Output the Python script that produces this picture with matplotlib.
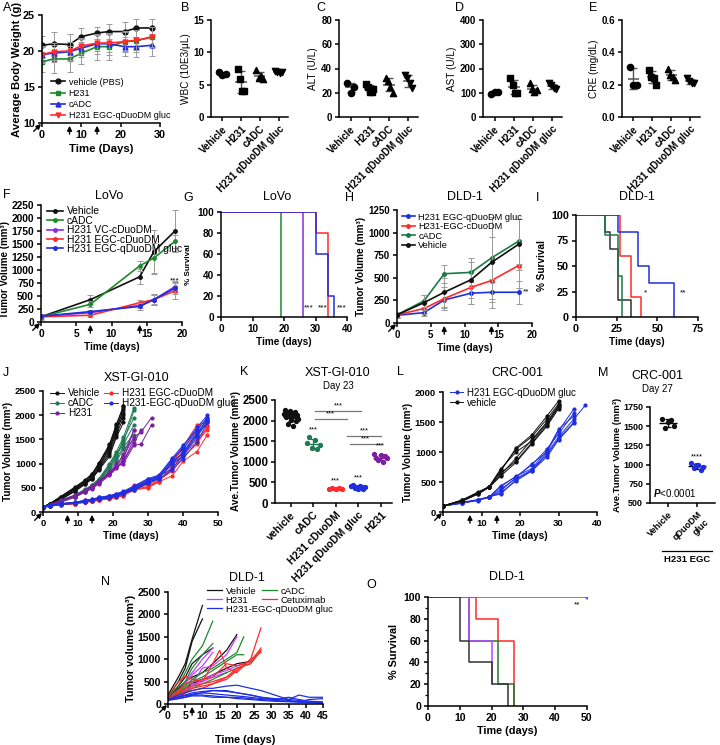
import matplotlib
matplotlib.use('Agg')
import matplotlib.pyplot as plt
import numpy as np

plt.rcParams['font.family'] = ['Liberation Sans', 'DejaVu Sans']
plt.rcParams['font.size'] = 7
plt.rcParams['font.weight'] = 'bold'
plt.rcParams['axes.labelweight'] = 'bold'
plt.rcParams['axes.labelsize'] = 7.2
plt.rcParams['axes.linewidth'] = 1.1
plt.rcParams['mathtext.fontset'] = 'custom'
plt.rcParams['mathtext.it'] = 'Liberation Sans:italic'
plt.rcParams['mathtext.rm'] = 'Liberation Sans'

# ---------------- data ----------------
# A: body weight
a_days = [0, 3, 7, 10, 14, 17, 21, 24, 28]
a_vehicle = [20.8, 21.0, 20.9, 22.0, 22.5, 22.7, 22.7, 23.2, 23.2]
a_h231 = [18.5, 18.9, 18.9, 19.7, 20.6, 20.6, 21.3, 21.4, 22.0]
a_cadc = [19.5, 19.7, 19.9, 20.4, 21.0, 21.0, 20.6, 20.6, 20.8]
a_egc = [19.5, 19.9, 20.0, 20.7, 21.1, 21.1, 21.3, 21.5, 21.9]
a_vehicle_sd = [1.3, 1.7, 1.5, 1.2, 0.8, 1.0, 1.3, 1.3, 1.2]
a_h231_sd = [1.4, 2.0, 1.8, 1.5, 1.8, 1.8, 1.5, 1.5, 1.3]
a_cadc_sd = [1.2, 1.2, 1.3, 1.3, 1.4, 1.5, 1.3, 1.4, 1.5]
a_egc_sd = [1.0, 1.2, 1.2, 1.1, 1.1, 1.2, 1.3, 1.4, 1.4]

# B-E: blood chemistry
tox_groups = ['Vehicle', 'H231', 'cADC', 'H231 qDuoDM gluc']
wbc = [[6.9, 6.5, 6.6], [7.5, 5.9, 4.0, 4.0], [7.2, 6.1, 6.3, 5.9], [7.1, 6.9, 6.8, 7.0]]
alt = [[28, 20, 25], [27, 25, 21, 21, 23], [32, 30, 25, 20], [35, 32, 28, 24]]
ast = [[95, 105, 102], [160, 130, 100, 100], [140, 115, 105, 110], [140, 130, 120, 115]]
cre = [[0.31, 0.20, 0.20], [0.29, 0.25, 0.24, 0.20], [0.30, 0.26, 0.25, 0.23], [0.24, 0.22, 0.21, 0.21]]

# F: LoVo tumor volume
f_days = [0, 7, 14, 16, 19]
f_vehicle = [100, 430, 870, 1350, 1750]
f_cadc = [100, 340, 1080, 1230, 1550]
f_vc = [110, 180, 320, 430, 680]
f_egc_c = [100, 130, 370, 430, 600]
f_egc_q = [110, 200, 300, 430, 650]
f_vehicle_sd = [60, 80, 140, 420, 400]
f_cadc_sd = [40, 60, 100, 280, 120]
f_vc_sd = [20, 40, 60, 100, 110]
f_egc_c_sd = [20, 30, 50, 90, 150]
f_egc_q_sd = [20, 40, 60, 110, 120]

# G: LoVo survival
g_cadc_t, g_cadc_s = [0, 19], [100, 0]
g_vc_t, g_vc_s = [0, 26], [100, 0]
g_egc_c_t, g_egc_c_s = [0, 30, 34], [100, 80, 0]
g_egc_q_t, g_egc_q_s = [0, 30, 34, 36], [100, 60, 20, 0]

# H: DLD-1 tumor volume
h_days = [0, 4, 7, 11, 14, 18]
h_gluc = [85, 115, 255, 330, 340, 340]
h_egc_c = [90, 160, 270, 395, 470, 635]
h_cadc = [90, 245, 545, 560, 720, 905]
h_vehicle = [90, 225, 340, 480, 670, 870]
h_gluc_sd = [20, 40, 90, 120, 110, 130]
h_egc_c_sd = [20, 60, 130, 180, 200, 250]
h_cadc_sd = [30, 70, 100, 160, 230, 250]
h_vehicle_sd = [30, 80, 160, 200, 500, 280]

# I: DLD-1 survival
i_vehicle_t, i_vehicle_s = [0, 18, 21, 26, 34], [100, 83, 67, 17, 0]
i_cadc_t, i_cadc_s = [0, 18, 26, 28], [100, 80, 40, 0]
i_egc_c_t, i_egc_c_s = [0, 27, 34, 40], [100, 60, 20, 0]
i_gluc_t, i_gluc_s = [0, 26, 38, 45, 60], [100, 83, 50, 33, 0]

# J: XST-GI-010 individual mice
j_days = [0, 2, 5, 9, 12, 14, 16, 19, 21, 23, 26, 28, 31]
j_days_long = [0, 2, 5, 9, 12, 14, 16, 19, 21, 23, 26, 30, 33, 37, 40, 44, 47]
j_vehicle = [
    [100, 170, 300, 500, 650, 780, 1000, 1380, 1800, 2200],
    [110, 160, 290, 470, 620, 720, 950, 1320, 1700, 2150],
    [90, 150, 270, 440, 600, 700, 900, 1250, 1650, 2050],
    [100, 170, 310, 480, 640, 760, 990, 1350, 1750, 2100],
    [95, 140, 250, 420, 570, 680, 880, 1200, 1600, 1950],
    [105, 165, 285, 460, 610, 730, 930, 1300, 1720, 2000],
    [100, 155, 260, 430, 580, 690, 870, 1150, 1550, 1850],
    [110, 175, 320, 510, 660, 790, 1020, 1400, 1820, 2180],
]
j_cadc = [
    [100, 140, 230, 340, 470, 560, 690, 1000, 1250, 1550, 2150],
    [95, 130, 210, 310, 430, 510, 640, 920, 1150, 1450, 2100],
    [105, 145, 240, 350, 460, 550, 670, 980, 1200, 1400, 1800],
    [100, 135, 220, 330, 440, 520, 650, 900, 1100, 1350, 1600],
    [90, 125, 200, 300, 410, 490, 610, 860, 1050, 1300, 1500],
    [100, 140, 225, 320, 450, 530, 660, 940, 1180, 1500, 1950],
]
j_h231 = [
    [100, 150, 230, 330, 440, 520, 620, 800, 950, 1100, 1700],
    [95, 140, 220, 320, 420, 500, 600, 780, 920, 1050, 1420, 1700],
    [105, 150, 240, 340, 450, 540, 650, 820, 990, 1150, 1550, 1650, 1950],
    [100, 145, 225, 325, 430, 510, 610, 790, 930, 1000, 1380, 1400, 1800],
    [90, 135, 210, 310, 410, 480, 580, 760, 900, 1050, 1500],
    [100, 145, 230, 330, 440, 520, 630, 810, 960, 1200, 1700],
]
j_egc_c = [
    [100, 120, 150, 170, 200, 220, 240, 280, 300, 340, 450, 500, 620, 750, 1050, 1250, 1600],
    [100, 125, 155, 180, 210, 230, 260, 290, 320, 360, 500, 550, 650, 850, 1150, 1400, 1780],
    [95, 120, 150, 175, 205, 225, 250, 280, 310, 350, 480, 520, 640, 900, 1200, 1450, 1700],
    [105, 130, 160, 185, 215, 240, 270, 300, 330, 370, 550, 600, 700, 1000, 1350, 1800, 1850],
    [100, 125, 150, 170, 200, 220, 245, 275, 300, 340, 470, 510, 630, 950, 1250, 1500, 1750],
    [100, 120, 150, 175, 205, 230, 255, 285, 315, 355, 520, 580, 680, 1050, 1300, 1650, 1800],
]
j_gluc = [
    [100, 130, 160, 180, 220, 240, 270, 300, 330, 380, 480, 600, 700, 1000, 1250, 1600, 1850],
    [100, 135, 165, 190, 230, 250, 280, 320, 350, 400, 500, 650, 720, 1100, 1300, 1700, 1950],
    [95, 130, 160, 180, 215, 240, 270, 300, 340, 390, 460, 620, 690, 1050, 1200, 1650, 1900],
    [105, 140, 170, 200, 240, 260, 300, 330, 370, 420, 520, 680, 740, 1080, 1350, 1750, 2000],
    [100, 130, 165, 185, 220, 245, 275, 310, 345, 395, 470, 640, 710, 1000, 1150, 1550, 1880],
    [100, 135, 170, 195, 235, 255, 290, 325, 360, 410, 490, 660, 730, 900, 1180, 1600, 1920],
    [95, 125, 155, 180, 215, 235, 265, 295, 330, 380, 450, 590, 680, 870, 1100, 1450, 1850],
    [105, 140, 175, 200, 240, 265, 300, 340, 380, 430, 540, 690, 760, 1120, 1380, 1700, 1950],
]

# K: day 23 volumes
k_groups = ['vehicle', 'cADC', 'H231 cDuoDM', 'H231 qDuoDM gluc', 'H231']
k_vehicle = [2150, 2250, 2080, 2190, 1920, 2120, 2230, 2020, 2170, 1870, 2100, 2200, 1980, 2130, 2050]
k_cadc = [1450, 1600, 1330, 1520, 1300, 1400]
k_egc_c = [350, 360, 340, 355, 345]
k_gluc = [410, 440, 370, 400, 350, 420, 380, 340, 390]
k_h231 = [1200, 1100, 1040, 1160, 1000, 1130, 1090]

# L: CRC-001 individual mice
l_days = [0, 5, 9, 12, 15, 19, 23, 27, 30, 34, 37]
l_vehicle = [
    [100, 190, 310, 420, 650, 850, 1150, 1450, 1750],
    [100, 200, 320, 420, 700, 1050, 1250, 1550, 1800],
    [100, 185, 300, 415, 620, 900, 1200, 1500, 1780],
    [100, 195, 315, 420, 680, 1070, 1280, 1600, 1850],
    [100, 180, 295, 410, 600, 830, 1130, 1430, 1720],
    [100, 200, 330, 425, 720, 1000, 1180, 1480, 1760],
]
l_gluc = [
    [100, 150, 200, 250, 320, 520, 680, 920, 1200, 1480],
    [100, 160, 200, 250, 380, 560, 700, 980, 1250, 1550, 1780],
    [100, 155, 195, 245, 350, 580, 800, 1000, 1350, 1720],
    [100, 150, 190, 250, 420, 600, 720, 1020, 1380, 1600],
    [100, 145, 200, 255, 300, 540, 690, 950, 1220, 1500],
    [100, 165, 205, 250, 440, 590, 780, 1050, 1300, 1650],
]

# M: day 27 volumes
m_vehicle = [1600, 1480, 1550, 1580, 1500]
m_gluc = [1020, 950, 990, 1000, 930, 970]

# N: DLD-1 individual mice (days, volumes)
n_vehicle = [
    ([0, 3, 5, 7, 10], [200, 600, 900, 1450, 2200]),
    ([0, 3, 5, 7, 10], [150, 500, 800, 1400, 1900]),
    ([0, 3, 5, 7, 10, 13, 17, 20], [150, 350, 500, 600, 700, 900, 1200, 1550]),
    ([0, 3, 5, 7, 10, 13, 17, 20, 24], [100, 250, 350, 450, 550, 650, 800, 900, 950]),
    ([0, 3, 5, 7, 10, 13], [120, 400, 600, 900, 1100, 1250]),
]
n_cadc = [
    ([0, 3, 5, 7, 10, 13], [150, 400, 700, 1000, 1300, 1850]),
    ([0, 3, 5, 7, 10, 13], [100, 300, 500, 800, 1100, 1350]),
    ([0, 3, 5, 7, 10, 13, 17, 20, 22], [100, 250, 400, 550, 700, 800, 1000, 1150, 1500]),
    ([0, 3, 5, 7, 10, 13, 17, 20, 22], [80, 200, 350, 500, 600, 750, 950, 1100, 1100]),
    ([0, 3, 5, 7, 10, 13, 17, 20, 24, 27], [80, 150, 250, 350, 450, 550, 700, 800, 900, 1200]),
]
n_h231 = [
    ([0, 3, 5, 7, 10, 13], [100, 300, 500, 700, 1000, 1250]),
    ([0, 3, 5, 7, 10, 13], [100, 250, 450, 650, 850, 1150]),
    ([0, 3, 5, 7, 10, 13, 17, 20], [100, 200, 300, 450, 800, 850, 1100, 1500]),
    ([0, 3, 5, 7, 10, 13, 17, 20, 24], [80, 180, 280, 400, 550, 650, 750, 850, 950]),
    ([0, 3, 5, 7, 10, 13, 17], [90, 200, 300, 400, 500, 600, 700]),
]
n_cetux = [
    ([0, 3, 5, 7, 10, 13, 15, 17, 20, 22, 24, 27], [150, 500, 620, 550, 500, 900, 1200, 800, 700, 850, 1000, 1700]),
    ([0, 3, 5, 7, 10, 13, 17, 20, 24, 27], [100, 300, 450, 500, 550, 600, 900, 850, 950, 1250]),
    ([0, 3, 5, 7, 10, 13, 17, 20, 24, 27], [100, 250, 350, 400, 450, 500, 600, 800, 900, 1200]),
    ([0, 3, 5, 7, 10, 13, 17, 20, 24, 27], [80, 200, 300, 350, 400, 450, 550, 750, 1000, 1150]),
    ([0, 3, 5, 7, 10, 13, 17, 20], [80, 150, 250, 300, 350, 450, 600, 750]),
]
n_days_gluc = [0, 3, 5, 7, 10, 13, 17, 20, 24, 27, 31, 35, 38, 41, 45]
n_gluc = [
    [100, 200, 250, 300, 350, 350, 400, 420, 350, 300, 200, 100, 80, 60, 50],
    [100, 150, 200, 250, 280, 300, 300, 250, 200, 150, 120, 100, 200, 150, 150],
    [100, 150, 180, 220, 250, 300, 280, 250, 200, 150, 100, 80, 50, 100, 120],
    [100, 120, 150, 200, 200, 180, 150, 150, 120, 100, 80, 60, 50, 40, 30],
    [100, 150, 200, 200, 250, 230, 200, 180, 150, 120, 100, 150, 100, 60, 30],
    [80, 120, 150, 180, 180, 150, 150, 120, 100, 80, 60, 50, 40, 30, 20],
]

# O: DLD-1 survival
o_vehicle_t, o_vehicle_s = [0, 10, 13, 20, 25], [100, 60, 40, 20, 0]
o_h231_t, o_h231_s = [0, 13, 20], [100, 60, 20]
o_cadc_t, o_cadc_s = [0, 13, 22, 27], [100, 60, 20, 0]
o_cetux_t, o_cetux_s = [0, 15, 22, 27], [100, 80, 60, 0]
o_gluc_t, o_gluc_s = [0, 50], [100, 100]

# ---------------- layout helpers ----------------
W, H = 720, 745
fig = plt.figure(figsize=(W / 100, H / 100), dpi=100)

BLACK = '#111111'
GREEN = '#1e8a2e'
BLUE = '#1f2fe0'
RED = '#ff2a2a'
PURPLE = '#8a2be2'
GRAY = '#9a9a9a'


def add_ax(l, t, r, b, ts=7.5):
    ax = fig.add_axes([l / W, 1 - b / H, (r - l) / W, (b - t) / H])
    ax.spines[['top', 'right']].set_visible(False)
    ax.tick_params(width=1.1, length=3, labelsize=ts, pad=2)
    ax.patch.set_alpha(0)
    return ax


def letter(x, y, s):
    fig.text(x / W, 1 - y / H, s, fontsize=9, weight='normal', va='center', ha='left')


def title(x, y, s, size=9):
    fig.text(x / W, 1 - y / H, s, fontsize=size, weight='normal', va='center', ha='center')


def arrows(ax, days, origin=True):
    for d in days:
        ax.annotate('', xy=(d, 0), xycoords=('data', 'axes fraction'),
                    xytext=(0, -8), textcoords='offset points',
                    arrowprops=dict(arrowstyle='-|>,head_width=0.2,head_length=0.4', color='k', lw=1,
                                    shrinkA=0, shrinkB=2),
                    annotation_clip=False)
    if origin:
        ax.annotate('', xy=(0, 0), xycoords='axes fraction', xytext=(-6, -6),
                    textcoords='offset points',
                    arrowprops=dict(arrowstyle='-|>,head_width=0.2,head_length=0.4', color='k', lw=1,
                                    shrinkA=0, shrinkB=1),
                    annotation_clip=False)


def leg_at(ax, handles, labels, x, y, size=7, hl=1.6, sp=0.05):
    lg = ax.legend(handles, labels, loc='upper left', bbox_to_anchor=(x / W, 1 - y / H),
                   bbox_transform=fig.transFigure, frameon=False,
                   handlelength=hl, labelspacing=sp, borderpad=0, handletextpad=0.4,
                   prop={'size': size, 'weight': 'normal'})
    ax.legend_ = None
    ax.add_artist(lg)
    return lg


# ---------------- A ----------------
ax = add_ax(42, 15, 160, 123, ts=7.8)
hA = []
for y, sd, c, m, lab in [(a_vehicle, a_vehicle_sd, BLACK, 'o', 'vehicle (PBS)'),
                         (a_h231, a_h231_sd, GREEN, 's', 'H231'),
                         (a_cadc, a_cadc_sd, BLUE, '^', 'cADC'),
                         (a_egc, a_egc_sd, RED, 'v', 'H231 EGC-qDuoDM gluc')]:
    ax.errorbar(a_days, y, yerr=sd, fmt='none', ecolor=GRAY, elinewidth=0.7, capsize=2, capthick=0.7)
    hA += ax.plot(a_days, y, color=c, marker=m, ms=3.5, lw=1.2, label=lab)
ax.set_xlim(0, 30)
ax.set_ylim(10, 25)
ax.set_xticks([0, 10, 20, 30])
ax.set_yticks([10, 15, 20, 25])
ax.set_xlabel('Time (Days)', labelpad=3, fontsize=8.2)
ax.set_ylabel('Average Body Weight (g)', labelpad=1, fontsize=8.2)
leg_at(ax, hA, [h.get_label() for h in hA], 46, 73, size=6.5, sp=0.25)
arrows(ax, [7, 14])
letter(3, 8, 'A')

# ---------------- B-E ----------------
tox_markers = ['o', 's', '^', 'v']


def tox_panel(box, vals, ylim, yticks, ylabel, fmt=None):
    ax = add_ax(*box, ts=7)
    for i, v in enumerate(vals):
        n = len(v)
        xs = i + np.linspace(-0.18, 0.18, n)
        ax.scatter(xs, v, marker=tox_markers[i], s=20, color='k', zorder=3)
        mu, sd = np.mean(v), np.std(v, ddof=1)
        ax.hlines(mu, i - 0.3, i + 0.3, color='#555555', lw=1.1)
        ax.errorbar(i, mu, yerr=sd, fmt='none', ecolor='#555555', elinewidth=1, capsize=3, capthick=1)
    ax.set_xlim(-0.6, 3.5)
    ax.set_ylim(*ylim)
    ax.set_yticks(yticks)
    if fmt:
        ax.set_yticklabels([fmt % t for t in yticks])
    ax.set_xticks(range(4))
    ax.set_xticklabels(tox_groups, rotation=45, ha='right', rotation_mode='anchor')
    ax.set_ylabel(ylabel, weight='normal', labelpad=2)
    return ax


tox_panel((211, 20, 288, 117), wbc, (0, 15), [0, 5, 10, 15], 'WBC (10E3/μL)')
tox_panel((339, 20, 418, 117), alt, (0, 80), [0, 20, 40, 60, 80], 'ALT (U/L)')
tox_panel((483, 20, 562, 117), ast, (0, 400), [0, 100, 200, 300, 400], 'AST (U/L)')
tox_panel((622, 20, 700, 117), cre, (0, 0.6), [0, 0.2, 0.4, 0.6], 'CRE (mg/dL)', fmt='%.1f')
letter(181, 8, 'B')
letter(316, 8, 'C')
letter(455, 8, 'D')
letter(589, 8, 'E')

# ---------------- F ----------------
ax = add_ax(41, 205, 182, 322, ts=7.4)
hF = []
for y, sd, c, lab in [(f_vehicle, f_vehicle_sd, BLACK, 'Vehicle'),
                      (f_cadc, f_cadc_sd, GREEN, 'cADC'),
                      (f_vc, f_vc_sd, PURPLE, 'H231 VC-cDuoDM'),
                      (f_egc_c, f_egc_c_sd, RED, 'H231 EGC-cDuoDM'),
                      (f_egc_q, f_egc_q_sd, BLUE, 'H231 EGC-qDuoDM gluc')]:
    ax.errorbar(f_days, y, yerr=sd, fmt='none', ecolor=GRAY, elinewidth=0.7, capsize=2, capthick=0.7)
    hF += ax.plot(f_days, y, color=c, marker='o', ms=2.5, lw=1.2, label=lab)
ax.set_xlim(0, 20)
ax.set_ylim(0, 2250)
ax.set_xticks([0, 5, 10, 15, 20])
ax.set_yticks(range(0, 2251, 250))
ax.set_xlabel('Time (days)', labelpad=2)
ax.set_ylabel('Tumor Volume (mm³)', fontsize=7)
ax.yaxis.set_label_coords(-0.22, 0.45)
ax.text(19, 800, '***', ha='center', va='center', fontsize=6, weight='normal')
leg_at(ax, hF, [h.get_label() for h in hF], 42, 201, size=7.4, hl=1.5, sp=-0.05)
arrows(ax, [7, 14])
letter(3, 195, 'F')
title(109, 196, 'LoVo')

# ---------------- G ----------------
ax = add_ax(221, 212, 347, 317, ts=7.2)
for t, s, c in [(g_cadc_t, g_cadc_s, GREEN), (g_vc_t, g_vc_s, PURPLE),
                (g_egc_c_t, g_egc_c_s, RED), (g_egc_q_t, g_egc_q_s, BLUE)]:
    ax.step(t, s, where='post', color=c, lw=1.1)
ax.set_xlim(0, 40)
ax.set_ylim(0, 100)
ax.set_xticks([0, 10, 20, 30, 40])
ax.set_yticks([0, 20, 40, 60, 80, 100])
ax.set_xlabel('Time (days)', labelpad=2)
ax.set_ylabel('% Survival', labelpad=4, fontsize=5.8)
for xx in [28, 32.3, 38.3]:
    ax.text(xx, 9, '***', ha='center', va='center', fontsize=6, weight='normal')
letter(183, 198, 'G')
title(277, 197, 'LoVo')

# ---------------- H ----------------
ax = add_ax(397, 210, 532, 323, ts=7)
hH = []
for y, sd, c, lab in [(h_gluc, h_gluc_sd, BLUE, 'H231 EGC-qDuoDM gluc'),
                      (h_egc_c, h_egc_c_sd, RED, 'H231-EGC-cDuoDM'),
                      (h_cadc, h_cadc_sd, '#1b7a45', 'cADC'),
                      (h_vehicle, h_vehicle_sd, BLACK, 'Vehicle')]:
    ax.errorbar(h_days, y, yerr=sd, fmt='none', ecolor=GRAY, elinewidth=0.7, capsize=2, capthick=0.7)
    hH += ax.plot(h_days, y, color=c, marker='o', ms=2.5, lw=1.2, label=lab)
ax.set_xlim(0, 20)
ax.set_ylim(0, 1250)
ax.set_xticks([0, 5, 10, 15, 20])
ax.set_yticks(range(0, 1251, 250))
ax.set_xlabel('Time (days)', labelpad=2)
ax.set_ylabel('Tumor Volume (mm³)', labelpad=2)
ax.text(19.2, 340, '**', ha='center', va='center', fontsize=6, weight='normal')
leg_at(ax, hH, [h.get_label() for h in hH], 397, 208, size=6.7, hl=1.4)
arrows(ax, [7, 14])
letter(345, 198, 'H')
title(465, 197, 'DLD-1')

# ---------------- I ----------------
ax = add_ax(576, 215, 698, 317, ts=7.8)
for t, s, c in [(i_vehicle_t, i_vehicle_s, '#333333'), (i_cadc_t, i_cadc_s, '#1b7a45'),
                (i_egc_c_t, i_egc_c_s, RED), (i_gluc_t, i_gluc_s, BLUE)]:
    ax.step(t, s, where='post', color=c, lw=1.1)
ax.set_xlim(0, 75)
ax.set_ylim(0, 100)
ax.set_xticks([0, 25, 50, 75])
ax.set_yticks([0, 25, 50, 75, 100])
ax.set_xlabel('Time (days)', labelpad=2)
ax.set_ylabel('% Survival', labelpad=3)
ax.text(43, 24, '*', ha='center', va='center', fontsize=6, weight='normal')
ax.text(66, 24, '**', ha='center', va='center', fontsize=6, weight='normal')
letter(536, 198, 'I')
title(637, 197, 'DLD-1')

# ---------------- J ----------------
ax = add_ax(43, 391, 218, 512, ts=6.8)
JGREEN = '#1f7a55'
JPURPLE = '#7b1fa2'
hJ = []
for group, days, c, lab in [(j_vehicle, j_days, BLACK, 'Vehicle'),
                            (j_cadc, j_days, JGREEN, 'cADC'),
                            (j_h231, j_days, JPURPLE, 'H231'),
                            (j_egc_c, j_days_long, RED, 'H231 EGC-cDuoDM'),
                            (j_gluc, j_days_long, BLUE, 'H231-EGC-qDuoDM gluc')]:
    for k, v in enumerate(group):
        ln = ax.plot(days[:len(v)], v, color=c, marker='o', ms=2, lw=0.7, label=lab)
        if k == 0:
            hJ += ln
ax.set_xlim(0, 50)
ax.set_ylim(0, 2500)
ax.set_xticks([0, 10, 20, 30, 40, 50])
ax.set_yticks(range(0, 2501, 500))
ax.set_xlabel('Time (days)', labelpad=2)
ax.set_ylabel('Tumor Volume (mm³)', labelpad=1)
leg_at(ax, hJ[:3], [h.get_label() for h in hJ[:3]], 45, 383, size=7.2, hl=1.4, sp=0.0)
leg_at(ax, hJ[3:], [h.get_label() for h in hJ[3:]], 99, 383, size=7.2, hl=1.4, sp=0.0)
arrows(ax, [7, 14])
letter(3, 373, 'J')
title(137, 378, 'XST-GI-010')

# ---------------- K ----------------
ax = add_ax(275, 400, 392, 503, ts=8.3)
k_vals = [k_vehicle, k_cadc, k_egc_c, k_gluc, k_h231]
k_cols = [BLACK, JGREEN, RED, BLUE, JPURPLE]
for i, (v, c) in enumerate(zip(k_vals, k_cols)):
    xs = i + np.linspace(-0.3, 0.3, len(v))
    ax.scatter(xs, v, s=8, color=c, zorder=3)
    mu, sd = np.mean(v), np.std(v, ddof=1)
    ax.hlines(mu, i - 0.35, i + 0.35, color=c, lw=1)
    ax.errorbar(i, mu, yerr=sd, fmt='none', ecolor=c, elinewidth=0.9, capsize=2.5, capthick=0.9)
    if i > 0:
        ax.text(i, max(v) + 90, '***', ha='center', va='bottom', fontsize=5.5, weight='normal')
for x0, x1, yy in [(1.08, 3.13, 2230), (1.08, 2.48, 2040), (2.48, 4.03, 1630), (2.64, 4.03, 1430)]:
    ax.plot([x0, x1], [yy, yy], color='#777777', lw=0.9)
    ax.text((x0 + x1) / 2, yy + 40, '***', ha='center', va='bottom', fontsize=5.5, weight='normal')
ax.set_xlim(-0.7, 4.5)
ax.set_ylim(0, 2500)
ax.set_yticks(range(0, 2501, 500))
ax.set_xticks(range(5))
ax.set_xticklabels(k_groups, rotation=45, ha='right', rotation_mode='anchor', fontsize=7.5)
ax.set_ylabel('Ave.Tumor Volume (mm³)', labelpad=1)
letter(240, 372, 'K')
title(338, 373, 'XST-GI-010')
title(338, 386, 'Day 23', size=7)

# ---------------- L ----------------
ax = add_ax(443, 392, 597, 512, ts=6.8)
hL = []
for group, c, lab in [(l_gluc, BLUE, 'H231 EGC-qDuoDM gluc'), (l_vehicle, BLACK, 'vehicle')]:
    for k, v in enumerate(group):
        ln = ax.plot(l_days[:len(v)], v, color=c, marker='o', ms=2, lw=0.7, label=lab)
        if k == 0:
            hL += ln
ax.set_xlim(0, 40)
ax.set_ylim(0, 2000)
ax.set_xticks([0, 10, 20, 30, 40])
ax.set_yticks(range(0, 2001, 500))
ax.set_xlabel('Time (days)', labelpad=2)
ax.set_ylabel('Tumor Volume (mm³)', labelpad=1)
leg_at(ax, hL, [h.get_label() for h in hL], 445, 383, size=7, hl=1.4, sp=0.0)
arrows(ax, [7, 14])
letter(397, 372, 'L')
title(517, 373, 'CRC-001')

# ---------------- M ----------------
ax = add_ax(650, 407, 715, 503, ts=6.5)
for i, (v, c) in enumerate([(m_vehicle, BLACK), (m_gluc, BLUE)]):
    xs = i + np.linspace(-0.2, 0.2, len(v))
    ax.scatter(xs, v, s=8, color=c, zorder=3)
    mu, sd = np.mean(v), np.std(v, ddof=1)
    ax.hlines(mu, i - 0.3, i + 0.3, color='k', lw=1)
    ax.errorbar(i, mu, yerr=sd, fmt='none', ecolor='k', elinewidth=0.9, capsize=2.5, capthick=0.9)
ax.text(1, max(m_gluc) + 40, '****', ha='center', va='bottom', fontsize=5.5, weight='normal')
ax.text(0.05, 0.06, r'$\mathit{P}$<0.0001', transform=ax.transAxes, fontsize=7, weight='normal')
ax.set_xlim(-0.6, 1.6)
ax.set_ylim(500, 1750)
ax.set_yticks(range(500, 1751, 250))
ax.set_xticks([0, 1])
ax.set_xticklabels(['Vehicle', 'qDuoDM\ngluc'], rotation=45, ha='right', rotation_mode='anchor')
ax.set_ylabel('Ave.Tumor Volume (mm³)', labelpad=1, fontsize=6.8)
fig.add_artist(plt.Line2D([662 / W, 712 / W], [1 - 551 / H, 1 - 551 / H], color='k', lw=0.9))
fig.text(687 / W, 1 - 559 / H, 'H231 EGC', ha='center', va='center', fontsize=6.8)
letter(598, 373, 'M')
title(657, 376, 'CRC-001')
title(657, 389, 'Day 27', size=7)

# ---------------- N ----------------
ax = add_ax(168, 592, 323, 704, ts=7.6)
NPURPLE = '#c040ff'
hN = {}
for group, c, lab in [(n_vehicle, BLACK, 'Vehicle'), (n_h231, NPURPLE, 'H231'),
                      (n_cadc, '#1f8a2e', 'cADC'), (n_cetux, RED, 'Cetuximab')]:
    for k, (d, v) in enumerate(group):
        ln = ax.plot(d, v, color=c, lw=0.9)
        hN.setdefault(lab, ln[0])
for k, v in enumerate(n_gluc):
    ln = ax.plot(n_days_gluc, v, color=BLUE, lw=0.9)
    hN.setdefault('H231-EGC-qDuoDM gluc', ln[0])
c1 = ['Vehicle', 'H231', 'H231-EGC-qDuoDM gluc']
c2 = ['cADC', 'Cetuximab']
leg_at(ax, [hN[k] for k in c1], c1, 202, 582, size=6.8, hl=1.6, sp=0.0)
leg_at(ax, [hN[k] for k in c2], c2, 257, 582, size=6.8, hl=1.6, sp=0.0)
ax.set_xlim(0, 45)
ax.set_ylim(0, 2500)
ax.set_xticks(range(0, 46, 5))
ax.set_yticks(range(0, 2501, 500))
ax.set_xlabel('Time (days)', labelpad=10, fontsize=7.8)
ax.set_ylabel('Tumor volume (mm³)', labelpad=1, fontsize=7.8)
arrows(ax, [7])
letter(101, 582, 'N')
title(247, 578, 'DLD-1')

# ---------------- O ----------------
ax = add_ax(428, 597, 587, 706, ts=7.6)
for t, s, c in [(o_gluc_t, o_gluc_s, '#4a5cff'), (o_cetux_t, o_cetux_s, RED),
                (o_cadc_t, o_cadc_s, '#1f7a2e'), (o_h231_t, o_h231_s, NPURPLE),
                (o_vehicle_t, o_vehicle_s, '#333333')]:
    ax.step(t, s, where='post', color=c, lw=1.1)
ax.plot(o_gluc_t[-1], o_gluc_s[-1], 'o', color='#4a5cff', ms=2)
ax.set_xlim(0, 50)
ax.set_ylim(0, 100)
ax.set_xticks(range(0, 51, 10))
ax.set_yticks(range(0, 101, 20))
ax.set_yticks(range(10, 100, 20), minor=True)
ax.tick_params(which='minor', length=2, width=0.9)
ax.set_xlabel('Time (days)', labelpad=2, fontsize=7.8)
ax.set_ylabel('% Survival', labelpad=3, fontsize=7.8)
ax.text(47, 93, '**', ha='center', va='center', fontsize=6, weight='normal')
letter(366, 585, 'O')
title(507, 577, 'DLD-1')

fig.savefig('out.png', dpi=100)
